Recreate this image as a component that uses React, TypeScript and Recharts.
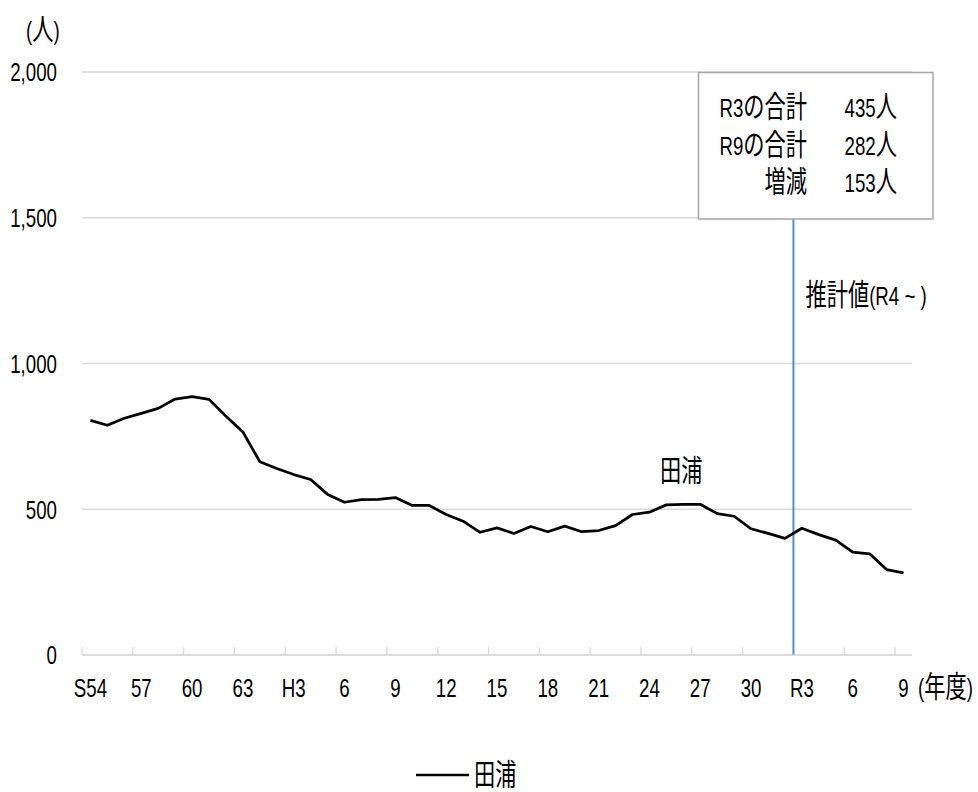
import React from 'react';
import { LineChart, Line, XAxis, YAxis, CartesianGrid, ReferenceLine, LabelList } from 'recharts';

// 年度 (S54 ~ R9)
const years = [
  'S54', 'S55', 'S56', 'S57', 'S58', 'S59', 'S60', 'S61', 'S62', 'S63',
  'H1', 'H2', 'H3', 'H4', 'H5', 'H6', 'H7', 'H8', 'H9', 'H10',
  'H11', 'H12', 'H13', 'H14', 'H15', 'H16', 'H17', 'H18', 'H19', 'H20',
  'H21', 'H22', 'H23', 'H24', 'H25', 'H26', 'H27', 'H28', 'H29', 'H30',
  'R1', 'R2', 'R3', 'R4', 'R5', 'R6', 'R7', 'R8', 'R9',
];

// 田浦 (人)
const taura = [
  805, 788, 812, 829, 846, 878, 886, 877, 819, 765,
  663, 640, 619, 602, 551, 524, 533, 534, 540, 513,
  513, 482, 459, 421, 436, 417, 441, 423, 442, 423,
  427, 444, 482, 490, 515, 517, 517, 485, 476, 433,
  417, 400, 435, 413, 394, 353, 347, 293, 282,
];

const tickLabels = ['S54', '57', '60', '63', 'H3', '6', '9', '12', '15', '18', '21', '24', '27', '30', 'R3', '6', '9'];
const yTicks = [0, 500, 1000, 1500, 2000];

const summaryRows = [
  ['R3の合計', '435人'],
  ['R9の合計', '282人'],
  ['増減', '153人'],
];

const seriesName = '田浦';
const labelIndex = 35;

const data = years.map((year, i) => ({ i, year, value: taura[i] }));
const labelTicks = years.map((_, i) => i).filter((i) => i % 3 === 0);
const markTicks = labelTicks.map((i) => i - 0.5);
const forecastX = years.indexOf('R3') - 0.5;
const markLen = 27; // tick mark length, in 人 units (~8px)

const FONT = "'Liberation Sans', Arial, 'Noto Sans CJK JP', sans-serif";
const JP = "'Noto Sans CJK JP', sans-serif";
const GRID = '#d9d9d9';

const isCJK = (c: string) => /[\u3000-\u30ff\u3400-\u9fff\uff00-\uffef]/.test(c);

function splitRuns(s: string) {
  const out: { t: string; cjk: boolean }[] = [];
  for (const c of s) {
    const cjk = isCJK(c);
    const last = out[out.length - 1];
    if (last && last.cjk === cjk) last.t += c;
    else out.push({ t: c, cjk });
  }
  return out;
}

// narrow, tall text like the original
function SText({ x, y, text, anchor = 'start' }: { x: number; y: number; text: string; anchor?: string }) {
  return (
    <g transform={`translate(${x},${y}) scale(0.85,1.18)`}>
      <text x={0} y={7.9} textAnchor={anchor as any} fill="#000" fontSize={22} fontFamily={FONT}>
        {splitRuns(text).map((r, k) =>
          r.cjk ? (
            <tspan key={k} fontFamily={JP} fontSize={25}>
              {r.t}
            </tspan>
          ) : (
            <tspan key={k}>{r.t}</tspan>
          )
        )}
      </text>
    </g>
  );
}

const XTick = (props: any) => {
  const { x, y, payload } = props;
  return <SText x={x} y={y + 33} anchor="middle" text={tickLabels[Math.round(payload.value / 3)] ?? ''} />;
};

const YTick = (props: any) => {
  const { x, y, payload } = props;
  return <SText x={x} y={y} anchor="end" text={Number(payload.value).toLocaleString('en-US')} />;
};

export default function App() {
  return (
    <div style={{ position: 'absolute', left: 0, top: 0, width: 978, height: 792, background: '#fff' }}>
      <LineChart width={978} height={792} data={data} margin={{ top: 72, right: 66, bottom: 0, left: 0 }}>
        <CartesianGrid vertical={false} stroke={GRID} strokeWidth={1.3} />
        <XAxis
          xAxisId="main"
          dataKey="i"
          type="number"
          domain={[-0.5, 48.5]}
          ticks={labelTicks}
          interval={0}
          height={137}
          axisLine={{ stroke: GRID, strokeWidth: 1.3 }}
          tickLine={false}
          tickSize={0}
          tickMargin={0}
          tick={<XTick />}
        />
        <YAxis
          domain={[0, 2000]}
          ticks={yTicks}
          width={82}
          axisLine={false}
          tickLine={false}
          tickSize={0}
          tickMargin={25}
          tick={<YTick />}
        />
        {markTicks.map((m) => (
          <ReferenceLine
            key={m}
            xAxisId="main"
            segment={[
              { x: m, y: 0 },
              { x: m, y: markLen },
            ]}
            stroke={GRID}
            strokeWidth={1.3}
          />
        ))}
        <ReferenceLine
          xAxisId="main"
          x={forecastX}
          stroke="#4f8fd1"
          strokeWidth={2}
          label={(p: any) => {
            const vb = p.viewBox || {};
            return <SText x={(vb.x ?? 792) + 12} y={(vb.y ?? 72) + 224} text="推計値(R4 ~ )" />;
          }}
        />
        <Line
          xAxisId="main"
          type="linear"
          dataKey="value"
          name={seriesName}
          stroke="#000"
          strokeWidth={2.75}
          strokeLinejoin="round"
          dot={false}
          isAnimationActive={false}
        >
          <LabelList
            dataKey="value"
            content={(p: any) => {
              if (p.index !== labelIndex) return null;
              const vx = p.viewBox?.x ?? p.x;
              const vy = p.viewBox?.y ?? p.y;
              return <SText x={vx - 2} y={vy - 33} anchor="middle" text={seriesName} />;
            }}
          />
        </Line>
      </LineChart>
      <svg width={978} height={792} style={{ position: 'absolute', left: 0, top: 0, pointerEvents: 'none' }}>
        <SText x={26} y={31} text="(人)" />
        <SText x={918} y={688} text="(年度)" />
        <rect x={698.5} y={72.5} width={234.5} height={146.5} fill="#fff" stroke="#a6a6a6" strokeWidth={1.5} />
        {summaryRows.map(([label, val], k) => (
          <g key={k}>
            <SText x={807} y={108 + k * 37.5} anchor="end" text={label} />
            <SText x={897} y={108 + k * 37.5} anchor="end" text={val} />
          </g>
        ))}
        <line x1={416} x2={469} y1={775} y2={775} stroke="#000" strokeWidth={2.5} />
        <SText x={474} y={776} text={seriesName} />
      </svg>
    </div>
  );
}
